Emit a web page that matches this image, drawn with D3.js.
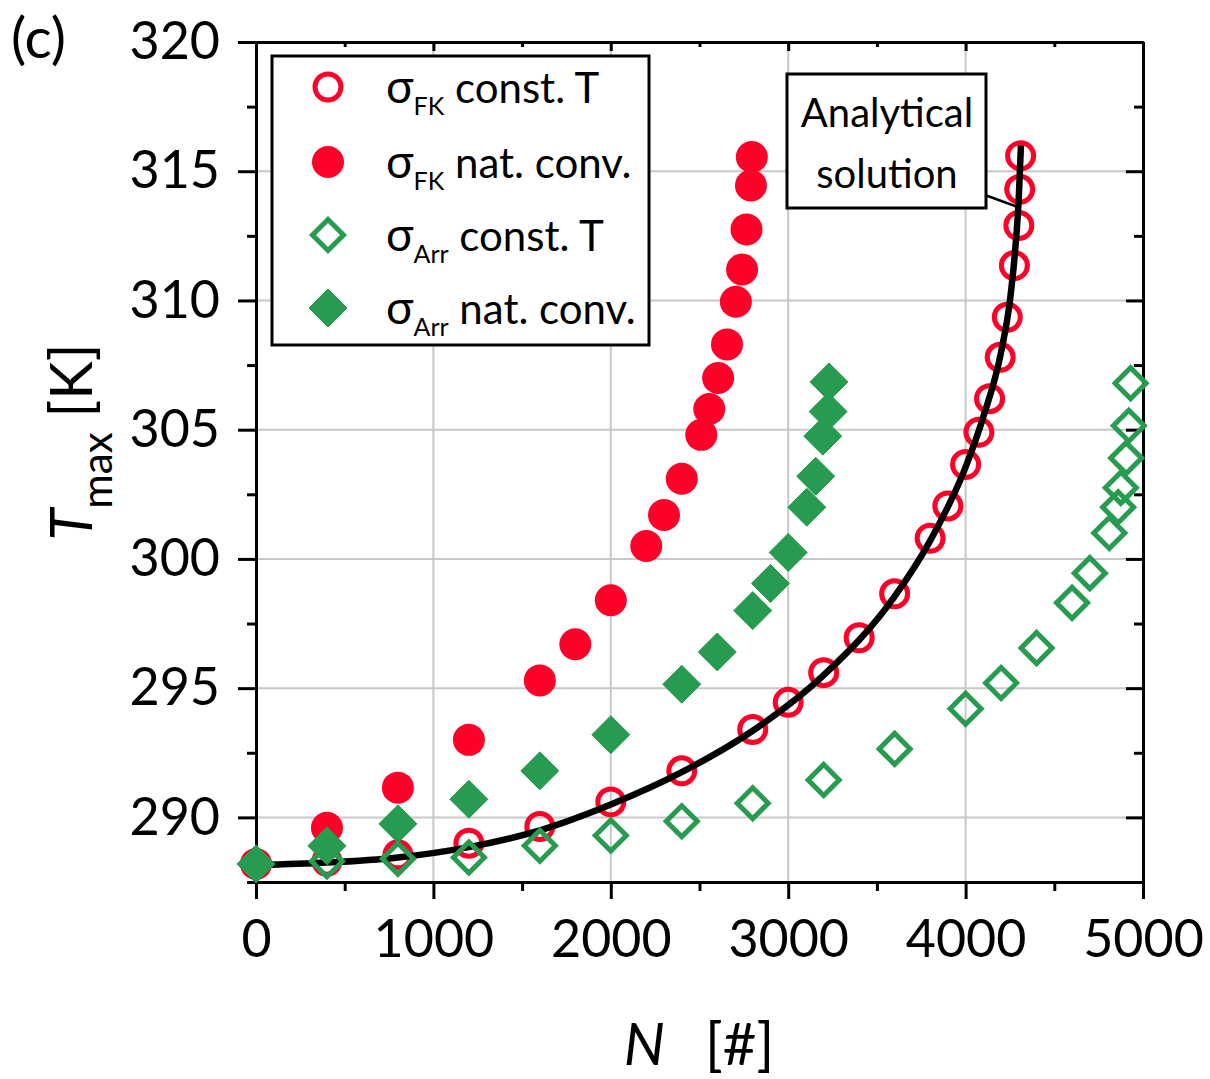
<!DOCTYPE html>
<html>
<head>
<meta charset="utf-8">
<script src="https://d3js.org/d3.v7.min.js"></script>
<style>
  body { margin: 0; background: #fff; }
  svg { font-family: Lato, "Open Sans", sans-serif; }
</style>
</head>
<body>
<script>
// chart size
var w = 1210;
var h = 1079;
var plotL = 256, plotR = 1143, plotT = 42, plotB = 882;

var red = "#ff0028";
var green = "#279b50";

// sigma_FK, const. T
var fkConstN = [0, 400, 800, 1200, 1600, 2000, 2400, 2800, 3000, 3200, 3400, 3600, 3800, 3900, 4000, 4075, 4135, 4195, 4235, 4275, 4300, 4305, 4310];
var fkConstT = [288.2, 288.3, 288.55, 289.0, 289.65, 290.6, 291.8, 293.4, 294.45, 295.6, 296.95, 298.65, 300.8, 302.05, 303.65, 304.9, 306.2, 307.8, 309.35, 311.35, 312.9, 314.3, 315.6];

// sigma_FK, nat. conv.
var fkNatN = [0, 400, 800, 1200, 1600, 1800, 2000, 2200, 2300, 2400, 2510, 2555, 2605, 2655, 2705, 2740, 2765, 2790, 2795];
var fkNatT = [288.2, 289.6, 291.15, 293.0, 295.3, 296.7, 298.4, 300.5, 301.7, 303.1, 304.8, 305.8, 307.0, 308.3, 309.95, 311.2, 312.75, 314.45, 315.55];

// sigma_Arr, const. T
var arrConstN = [0, 400, 800, 1200, 1600, 2000, 2400, 2800, 3200, 3600, 4000, 4200, 4400, 4600, 4700, 4810, 4860, 4875, 4905, 4920, 4930];
var arrConstT = [288.2, 288.3, 288.4, 288.45, 288.9, 289.3, 289.85, 290.55, 291.45, 292.65, 294.2, 295.2, 296.55, 298.3, 299.45, 301.0, 302.0, 302.75, 303.9, 305.15, 306.8];

// sigma_Arr, nat. conv.
var arrNatN = [0, 400, 800, 1200, 1600, 2000, 2400, 2600, 2800, 2900, 3000, 3105, 3155, 3195, 3225, 3230];
var arrNatT = [288.2, 288.9, 289.75, 290.7, 291.8, 293.2, 295.15, 296.4, 298.0, 299.05, 300.25, 302.0, 303.2, 304.75, 305.7, 306.85];

// analytical solution
var anaN = [0, 400, 800, 1200, 1600, 2000, 2400, 2800, 3200, 3600, 3800, 4000, 4100, 4200, 4250, 4280, 4300, 4312];
var anaT = [288.15, 288.25, 288.45, 288.85, 289.5, 290.5, 291.75, 293.35, 295.5, 298.55, 300.7, 303.55, 305.5, 308.0, 310.0, 312.0, 314.0, 316.0];

var xMajor = [0, 1000, 2000, 3000, 4000, 5000];
var xMinor = [500, 1500, 2500, 3500, 4500];
var yMajor = [290, 295, 300, 305, 310, 315, 320];
var yMinor = [287.5, 292.5, 297.5, 302.5, 307.5, 312.5, 317.5];

function zip(a, b) {
  return a.map(function(d, i) { return [d, b[i]]; });
}

var xScale = d3.scaleLinear().domain([0, 5000]).range([plotL, plotR]);
var yScale = d3.scaleLinear().domain([287.5, 320]).range([plotB, plotT]);

var svg = d3.select("body")
  .append("svg")
  .attr("width", w)
  .attr("height", h);

// grid
svg.append("g").selectAll("line")
  .data(xMajor.slice(1, -1))
  .enter().append("line")
  .attr("x1", function(d) { return xScale(d); })
  .attr("x2", function(d) { return xScale(d); })
  .attr("y1", plotT).attr("y2", plotB)
  .attr("stroke", "#c8c8c8").attr("stroke-width", 2);

svg.append("g").selectAll("line")
  .data(yMajor.slice(0, -1))
  .enter().append("line")
  .attr("y1", function(d) { return yScale(d); })
  .attr("y2", function(d) { return yScale(d); })
  .attr("x1", plotL).attr("x2", plotR)
  .attr("stroke", "#c8c8c8").attr("stroke-width", 2);

// axes
function styleAxis(g) {
  g.selectAll("path, line").attr("stroke", "#000").attr("stroke-width", 3);
  g.selectAll("text").attr("font-size", "52px").attr("fill", "#000").attr("font-family", "Lato, sans-serif");
}

svg.append("g").attr("transform", "translate(" + plotL + ",0)")
  .call(d3.axisLeft(yScale).tickValues(yMajor).tickSize(18).tickPadding(18).tickSizeOuter(0).tickFormat(d3.format("d")))
  .call(styleAxis);
svg.append("g").attr("transform", "translate(" + plotL + ",0)")
  .call(d3.axisLeft(yScale).tickValues(yMinor).tickSize(9).tickSizeOuter(0).tickFormat(""))
  .call(styleAxis);

svg.append("g").attr("transform", "translate(0," + plotB + ")")
  .call(d3.axisBottom(xScale).tickValues(xMajor).tickSize(17).tickPadding(21).tickSizeOuter(0).tickFormat(d3.format("d")))
  .call(styleAxis);
svg.append("g").attr("transform", "translate(0," + plotB + ")")
  .call(d3.axisBottom(xScale).tickValues(xMinor).tickSize(9).tickSizeOuter(0).tickFormat(""))
  .call(styleAxis);

svg.append("g").attr("transform", "translate(" + plotR + ",0)")
  .call(d3.axisRight(yScale).tickValues(yMajor).tickSize(-17).tickSizeOuter(0).tickFormat(""))
  .call(styleAxis);
svg.append("g").attr("transform", "translate(" + plotR + ",0)")
  .call(d3.axisRight(yScale).tickValues(yMinor).tickSize(-9).tickSizeOuter(0).tickFormat(""))
  .call(styleAxis);

svg.append("g").attr("transform", "translate(0," + plotT + ")")
  .call(d3.axisTop(xScale).tickValues(xMajor).tickSize(-9).tickSizeOuter(0).tickFormat(""))
  .call(styleAxis);
svg.append("g").attr("transform", "translate(0," + plotT + ")")
  .call(d3.axisTop(xScale).tickValues(xMinor).tickSize(-5).tickSizeOuter(0).tickFormat(""))
  .call(styleAxis);

// marker helpers
function diamond(s) {
  return "M0," + (-s) + "L" + s + ",0L0," + s + "L" + (-s) + ",0Z";
}

function drawCircles(g, data, r, filled) {
  g.selectAll("circle")
    .data(data)
    .enter().append("circle")
    .attr("cx", function(d) { return xScale(d[0]); })
    .attr("cy", function(d) { return yScale(d[1]); })
    .attr("r", r)
    .attr("fill", filled ? red : "none")
    .attr("stroke", filled ? "none" : red)
    .attr("stroke-width", 5);
}

function drawDiamonds(g, data, s, filled) {
  g.selectAll("path")
    .data(data)
    .enter().append("path")
    .attr("transform", function(d) { return "translate(" + xScale(d[0]) + "," + yScale(d[1]) + ")"; })
    .attr("d", diamond(s))
    .attr("fill", filled ? green : "none")
    .attr("stroke", green)
    .attr("stroke-width", filled ? 1 : 5)
    .attr("stroke-linejoin", filled ? "round" : "miter");
}

var plot = svg.append("g");

drawCircles(plot.append("g"), zip(fkConstN, fkConstT), 13, false);

var line = d3.line()
  .x(function(d) { return xScale(d[0]); })
  .y(function(d) { return yScale(d[1]); })
  .curve(d3.curveMonotoneX);

plot.append("path")
  .datum(zip(anaN, anaT))
  .attr("d", line)
  .attr("fill", "none")
  .attr("stroke", "#000")
  .attr("stroke-width", 6.5);

drawCircles(plot.append("g"), zip(fkNatN, fkNatT), 16, true);
drawDiamonds(plot.append("g"), zip(arrConstN, arrConstT), 15.5, false);
drawDiamonds(plot.append("g"), zip(arrNatN, arrNatT), 19, true);

// legend
var legend = svg.append("g");
legend.append("rect")
  .attr("x", 272).attr("y", 56).attr("width", 377).attr("height", 289)
  .attr("fill", "#fff").attr("stroke", "#000").attr("stroke-width", 3);

var legendSub = ["FK", "FK", "Arr", "Arr"];
var legendText = [" const. T", " nat. conv.", " const. T", " nat. conv."];
var legendY = [87, 162, 235, 308];

legendY.forEach(function(yy, i) {
  var sym = legend.append("g").attr("transform", "translate(328," + yy + ")");
  if (i == 0) {
    sym.append("circle").attr("r", 13).attr("fill", "none").attr("stroke", red).attr("stroke-width", 5);
  } else if (i == 1) {
    sym.append("circle").attr("r", 16).attr("fill", red);
  } else {
    sym.append("path").attr("d", diamond(i == 2 ? 15.5 : 19))
      .attr("fill", i == 3 ? green : "none").attr("stroke", green)
      .attr("stroke-width", i == 3 ? 1 : 5);
  }
  var t = legend.append("text")
    .attr("x", 386).attr("y", yy + 16)
    .attr("font-size", "42px");
  t.append("tspan").attr("font-size", "46px").text("σ");
  t.append("tspan").attr("dy", 12).attr("font-size", "25px").text(legendSub[i]);
  t.append("tspan").attr("dy", -12).text(legendText[i]);
});

// annotation
svg.append("line")
  .attr("x1", 985).attr("y1", 195).attr("x2", 1018).attr("y2", 207)
  .attr("stroke", "#000").attr("stroke-width", 2.5);
svg.append("rect")
  .attr("x", 787).attr("y", 74).attr("width", 199).attr("height", 134)
  .attr("fill", "#fff").attr("stroke", "#000").attr("stroke-width", 3);
svg.append("text").attr("x", 887).attr("y", 127)
  .attr("text-anchor", "middle").attr("font-size", "40px").text("Analytical");
svg.append("text").attr("x", 887).attr("y", 188)
  .attr("text-anchor", "middle").attr("font-size", "40px").text("solution");

// axis titles
var yt = svg.append("text")
  .attr("transform", "translate(92,442) rotate(-90)")
  .attr("text-anchor", "middle")
  .attr("font-size", "58px");
yt.append("tspan").attr("font-style", "italic").text("T");
yt.append("tspan").attr("dy", 20).attr("font-size", "42px").text("max");
yt.append("tspan").attr("dy", -20).text(" [K]");

var xt = svg.append("text")
  .attr("x", 699).attr("y", 1065)
  .attr("text-anchor", "middle")
  .attr("font-size", "58px");
xt.append("tspan").attr("font-style", "italic").text("N");
xt.append("tspan").attr("dx", 40).text("[#]");

svg.append("text").attr("x", 11).attr("y", 58)
  .attr("font-size", "57px").text("(c)");
</script>
</body>
</html>
